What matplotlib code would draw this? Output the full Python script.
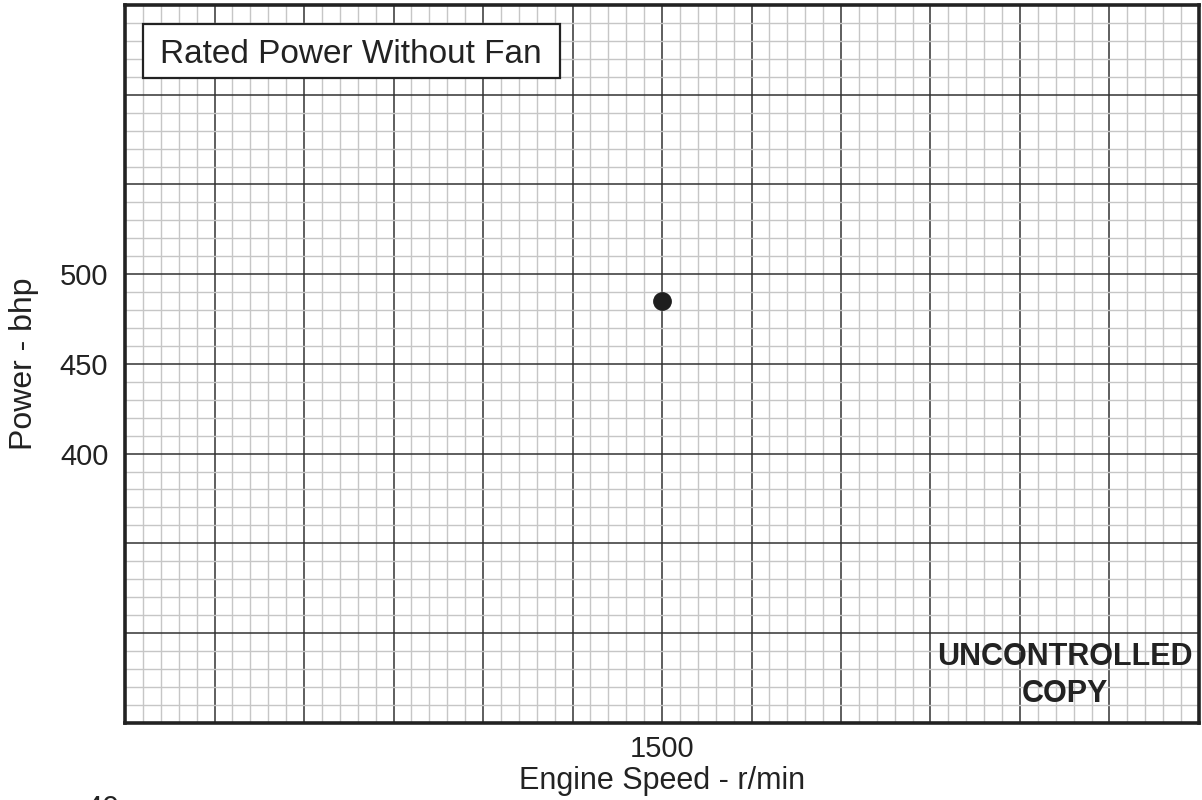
import matplotlib
matplotlib.use("Agg")
import matplotlib.pyplot as plt
from matplotlib.ticker import MultipleLocator, FuncFormatter
from matplotlib.patches import Rectangle

plt.rcParams['font.family'] = ['Liberation Sans', 'DejaVu Sans']

# data
speed = [1500]
power = [485]
x_labeled = [1500]
y_labeled = [400, 450, 500]
x_range = (900, 2100)
y_range = (250, 650)

fig = plt.figure(figsize=(12.02, 8), dpi=100)
ax = fig.add_axes([0.104, 0.0966, 0.8935, 0.8971])

ax.set_xlim(*x_range)
ax.set_ylim(*y_range)
ax.xaxis.set_major_locator(MultipleLocator(100))
ax.xaxis.set_minor_locator(MultipleLocator(20))
ax.yaxis.set_major_locator(MultipleLocator(50))
ax.yaxis.set_minor_locator(MultipleLocator(10))
ax.xaxis.set_major_formatter(FuncFormatter(lambda v, p: f"{v:.0f}" if round(v) in x_labeled else ""))
ax.yaxis.set_major_formatter(FuncFormatter(lambda v, p: f"{v:.0f}" if round(v) in y_labeled else ""))

ax.grid(which='minor', color='#c6c6c6', lw=1.0)
ax.grid(which='major', color='#333333', lw=1.1)
ax.set_axisbelow(True)
ax.tick_params(which='both', length=0)
ax.tick_params(axis='x', labelsize=21, pad=9, colors='#222222')
ax.tick_params(axis='y', labelsize=21, pad=12, colors='#222222')

for s in ax.spines.values():
    s.set_linewidth(2.6)
    s.set_color('#222222')
    s.set_zorder(5)

ax.plot(speed, power, 'o', color='#1e1e1e', ms=12.5, zorder=6)

ax.set_xlabel('Engine Speed - r/min', fontsize=22, color='#222222', labelpad=2)
ax.set_ylabel('Power - bhp', fontsize=23, color='#222222', labelpad=15)

ax.add_patch(Rectangle((0.0168, 0.8983), 0.3882, 0.0752, transform=ax.transAxes,
                       facecolor='white', edgecolor='#222222', lw=1.6, zorder=4))
ax.text(0.0326, 0.9196, 'Rated Power Without Fan', transform=ax.transAxes,
        fontsize=24, color='#222222', va='baseline', ha='left', zorder=5)

ax.text(0.875, 0.0658, 'UNCONTROLLED\nCOPY', transform=ax.transAxes,
        fontsize=22, fontweight='bold', color='#222222', ha='center', va='center',
        multialignment='center', linespacing=1.3, zorder=5)

# page number cut off at the bottom edge, as in the source page
fig.text(0.0707, 0.006, '40', fontsize=22, color='#222222', ha='left', va='top')

fig.savefig('out.png', dpi=100)
